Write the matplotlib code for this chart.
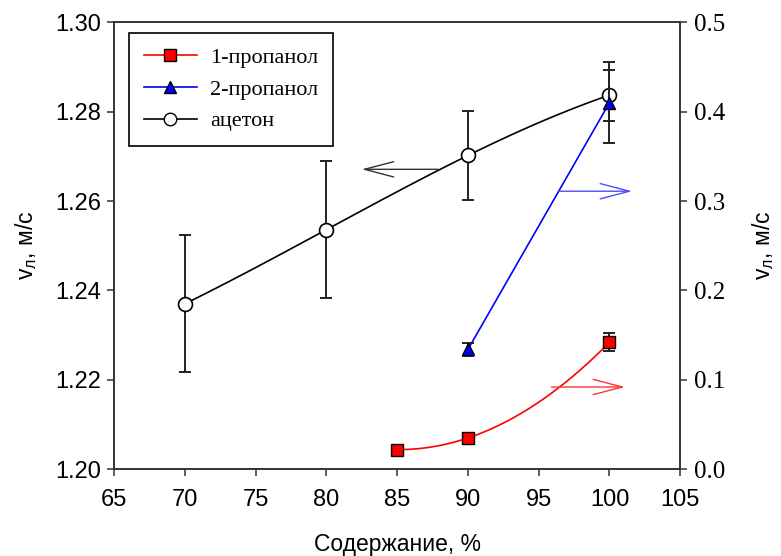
import numpy as np
import matplotlib
matplotlib.use('agg')
import matplotlib.pyplot as plt
from matplotlib.lines import Line2D

# data
x_acetone = [70, 80, 90, 100]
v_acetone = [1.2370, 1.2536, 1.2702, 1.2837]
err_acetone = [0.0153, 0.0153, 0.0100, 0.0057]

x_prop1 = [85, 90, 100]
v_prop1 = [0.022, 0.035, 0.142]
err_prop1 = [0.004, 0.005, 0.010]

x_prop2 = [90, 100]
v_prop2 = [0.134, 0.410]
err_prop2 = [0.0075, 0.045]

x_ticks = [65, 70, 75, 80, 85, 90, 95, 100, 105]
left_ticks = [1.20, 1.22, 1.24, 1.26, 1.28, 1.30]
right_ticks = [0.0, 0.1, 0.2, 0.3, 0.4, 0.5]

sans = 'Liberation Sans'
serif = 'Liberation Serif'
axis_col = '#333333'

fig = plt.figure(figsize=(7.81, 5.56), dpi=100)
ax1 = fig.add_axes([0.146, 0.156, 0.725, 0.804])
ax2 = ax1.twinx()

# smooth curves through the measured points
def smooth(xs, ys):
    coef = np.polyfit(xs, ys, len(xs) - 1)
    xx = np.linspace(min(xs), max(xs), 200)
    return xx, np.polyval(coef, xx)

# acetone, left axis
xx, yy = smooth(x_acetone, v_acetone)
ax1.plot(xx, yy, color='black', lw=1.2, zorder=2)
ax1.errorbar(x_acetone, v_acetone, yerr=err_acetone, fmt='none', ecolor='#222222',
             elinewidth=1.4, capsize=4.3, capthick=1.4, zorder=3)
ax1.plot(x_acetone, v_acetone, 'o', ms=10, mfc='white', mec='black', mew=1.2, zorder=4)

# propanols, right axis
xx, yy = smooth(x_prop1, v_prop1)
ax2.plot(xx, yy, color='red', lw=1.2, zorder=2)
ax2.errorbar(x_prop1, v_prop1, yerr=err_prop1, fmt='none', ecolor='#222222',
             elinewidth=1.4, capsize=4.3, capthick=1.4, zorder=3)
ax2.plot(x_prop1, v_prop1, 's', ms=9, mfc='red', mec='black', mew=1.0, zorder=4)

ax2.plot(x_prop2, v_prop2, color='blue', lw=1.2, zorder=2)
ax2.errorbar(x_prop2, v_prop2, yerr=err_prop2, fmt='none', ecolor='#222222',
             elinewidth=1.4, capsize=4.3, capthick=1.4, zorder=3)
ax2.plot(x_prop2, v_prop2, '^', ms=9, mfc='blue', mec='black', mew=1.0, zorder=4)

# arrows showing which axis each curve belongs to
arrow = '->,head_length=2.1,head_width=0.55'
ax1.annotate('', xy=(82.5, 1.2671), xytext=(87.9, 1.2671),
             arrowprops=dict(arrowstyle=arrow, color='#333333', lw=1, shrinkA=0, shrinkB=0, mutation_scale=10))
ax2.annotate('', xy=(101.6, 0.311), xytext=(96.4, 0.311),
             arrowprops=dict(arrowstyle=arrow, color='#4d4dff', lw=1, shrinkA=0, shrinkB=0, mutation_scale=10))
ax2.annotate('', xy=(101.1, 0.092), xytext=(95.9, 0.092),
             arrowprops=dict(arrowstyle=arrow, color='#ff3333', lw=1, shrinkA=0, shrinkB=0, mutation_scale=10))

ax1.set_xlim(65, 105)
ax1.set_ylim(1.20, 1.30)
ax2.set_ylim(0.0, 0.5)
ax1.set_xticks(x_ticks)
ax1.set_yticks(left_ticks)
ax2.set_yticks(right_ticks)
ax1.set_xticklabels([str(t) for t in x_ticks], fontfamily=sans, fontsize=17)
ax1.set_yticklabels(['%.2f' % t for t in left_ticks], fontfamily=sans, fontsize=17)
ax2.set_yticklabels(['%.1f' % t for t in right_ticks], fontfamily=serif, fontsize=18)

for ax in (ax1, ax2):
    for s in ax.spines.values():
        s.set_color(axis_col)
        s.set_linewidth(1.2)
    ax.tick_params(direction='out', length=5, width=1.1, color=axis_col, pad=5)
ax1.tick_params(axis='x', pad=9)
ax1.tick_params(axis='y', pad=4)

ax1.set_xlabel('Содержание, %', fontfamily=sans, fontsize=16.5, labelpad=16)
ax1.set_ylabel('v$_\\mathregular{л}$, м/с', fontfamily=sans, fontsize=16.5, labelpad=12)
ax2.set_ylabel('v$_\\mathregular{л}$, м/с', fontfamily=sans, fontsize=16.5, labelpad=18)

handles = [
    Line2D([], [], color='red', lw=1.2, marker='s', ms=8, mfc='red', mec='black'),
    Line2D([], [], color='blue', lw=1.2, marker='^', ms=8, mfc='blue', mec='black'),
    Line2D([], [], color='black', lw=1.2, marker='o', ms=9, mfc='white', mec='black'),
]
leg = ax2.legend(handles, ['1-пропанол', '2-пропанол', 'ацетон'], loc='upper left',
                 bbox_to_anchor=(0.027, 0.976), borderaxespad=0, fancybox=False,
                 edgecolor='black', framealpha=1, handlelength=2.4, borderpad=0.65,
                 handletextpad=0.6, prop={'family': serif, 'size': 16}, labelspacing=0.5)
leg.get_frame().set_linewidth(1.2)

fig.savefig('out.png', dpi=100)
plt.close(fig)
